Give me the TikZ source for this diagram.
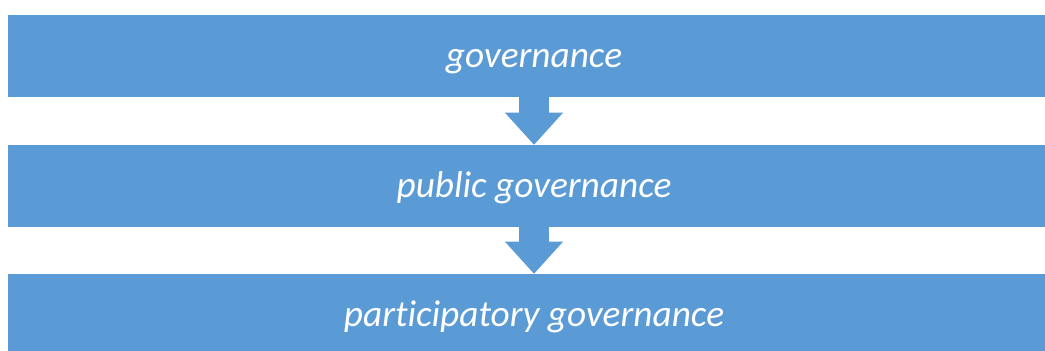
\documentclass[tikz,border=0pt]{standalone}
\usepackage{fontspec}
\setmainfont{Carlito}[Ligatures=NoCommon]
\usetikzlibrary{arrows.meta}
\definecolor{govblue}{HTML}{5B9BD5}

\begin{document}
\begin{tikzpicture}[x=0.75pt,y=-0.75pt,
    level/.style={fill=govblue,minimum width=789pt,minimum height=61.5pt,inner sep=0pt,text height=26.5pt,text depth=10pt,text=white,font=\fontsize{28}{33}\selectfont\itshape},
    down/.style={govblue,line width=22.5pt,-{Triangle[length=24pt,width=43.5pt,line width=0pt]}}]
  \useasboundingbox (0,0) rectangle (1045,350);
  \clip (0,0) rectangle (1045,350);
  \node[level] (gov) at (534,56) {governance};
  \node[level] (pub) at (534,186) {public governance};
  \node[level] (part) at (534,315) {participatory governance};
  \draw[down] (gov) -- (pub);
  \draw[down] (pub) -- (part);
\end{tikzpicture}
\end{document}
